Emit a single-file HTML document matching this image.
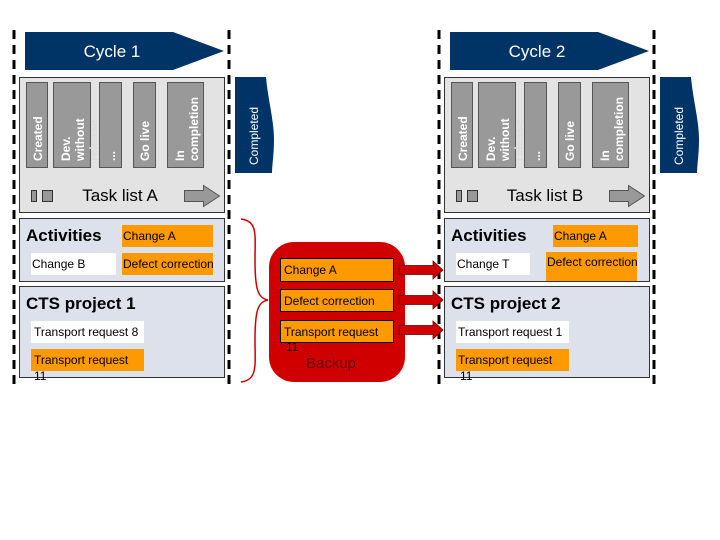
<!DOCTYPE html>
<html><head><meta charset="utf-8"><style>
body{margin:0;background:#fff}
svg{display:block}
text{font-family:"Liberation Sans",Arial,sans-serif}
</style></head><body>
<svg width="720" height="540" viewBox="0 0 720 540" xmlns="http://www.w3.org/2000/svg">
<defs>
<g id="col">
  <path d="M25 32 H173 L224 51 L173 70 H25 Z" fill="#003366"/>
  <rect x="19.5" y="77.5" width="205" height="135" fill="#e3e3e3" stroke="#333"/>
  <g fill="#999" stroke="#555">
    <rect x="26.5" y="82.5" width="21" height="85"/>
    <rect x="53.5" y="82.5" width="37" height="85"/>
    <rect x="99.5" y="82.5" width="22" height="85"/>
    <rect x="133.5" y="82.5" width="22" height="85"/>
    <rect x="167.5" y="82.5" width="36" height="85"/>
  </g>
  <g fill="#fff" font-size="12" font-weight="bold">
    <text transform="translate(42,161) rotate(-90)">Created</text>
    <text transform="translate(70,161) rotate(-90)">Dev.</text>
    <text transform="translate(84,161) rotate(-90)">without</text>
    <text transform="translate(98,161) rotate(-90)" fill="#ddd">release</text>
    <text transform="translate(115,161) rotate(-90)">...</text>
    <text transform="translate(149,161) rotate(-90)">Go live</text>
    <text transform="translate(184,161) rotate(-90)">In</text>
    <text transform="translate(198,161) rotate(-90)">completion</text>
  </g>
  <rect x="31.5" y="190.5" width="5" height="11" fill="#999" stroke="#333"/>
  <rect x="42.5" y="190.5" width="10" height="11" fill="#999" stroke="#333"/>
  <path d="M184.5 190.5 H203.5 V185.5 L219.5 196 L203.5 206.5 V201.5 H184.5 Z" fill="#999" stroke="#555"/>
  <path d="M235 77 H266 C268 100 274 120 274 140 C274 155 272 165 272 173 H235 Z" fill="#003366"/>
  <text transform="translate(258,165) rotate(-90)" fill="#fff" font-size="12">Completed</text>
  <rect x="19.5" y="218.5" width="205" height="63" fill="#dce1ec" stroke="#333"/>
  <text x="26" y="241" font-size="17" font-weight="bold">Activities</text>
  <rect x="19.5" y="286.5" width="205" height="91" fill="#dce1ec" stroke="#333"/>
  <text x="26" y="309" font-size="17" font-weight="bold">CTS project 1</text>
  <g stroke="#000" stroke-width="3" stroke-dasharray="9,6">
    <line x1="14" y1="30" x2="14" y2="384"/>
    <line x1="229" y1="30" x2="229" y2="384"/>
  </g>
</g>
</defs>
<use href="#col"/>
<use href="#col" x="425"/>
<rect x="445" y="287" width="130" height="30" fill="#dce1ec"/>
<text x="451" y="309" font-size="17" font-weight="bold">CTS project 2</text>
<g font-size="12" fill="#000">
<text x="112" y="57" font-size="17" fill="#fff" text-anchor="middle">Cycle 1</text>
<text x="537" y="57" font-size="17" fill="#fff" text-anchor="middle">Cycle 2</text>
<rect x="110" y="185" width="60" height="20" fill="#e3e3e3"/>
<text x="120" y="201" font-size="17" text-anchor="middle">Task list A</text>
<rect x="535" y="185" width="60" height="20" fill="#e3e3e3"/>
<text x="545" y="201" font-size="17" text-anchor="middle">Task list B</text>
<rect x="122" y="225" width="91" height="22" fill="#f90"/><text x="123" y="240">Change A</text>
<rect x="31" y="253" width="85" height="22" fill="#fff"/><text x="32" y="268">Change B</text>
<rect x="122" y="253" width="91" height="22" fill="#f90"/><text x="123" y="268">Defect correction</text>
<rect x="31" y="321" width="113" height="22" fill="#fff"/><text x="34" y="336">Transport request 8</text>
<rect x="31" y="349" width="113" height="22" fill="#f90"/><text x="34" y="364">Transport request</text><text x="34" y="380">11</text>
<rect x="553" y="225" width="85" height="22" fill="#f90"/><text x="554" y="240">Change A</text>
<rect x="456" y="253" width="74" height="22" fill="#fff"/><text x="457" y="268">Change T</text>
<rect x="546" y="252" width="91" height="29" fill="#f90"/><text x="547" y="266">Defect correction</text>
<rect x="456" y="321" width="113" height="22" fill="#fff"/><text x="458" y="336">Transport request 1</text>
<rect x="456" y="349" width="113" height="22" fill="#f90"/><text x="458" y="364">Transport request</text><text x="460" y="380">11</text>
</g>
<path d="M241 219 C258 221 255 235 255 260 C255 290 258 298 268 300 C258 302 255 310 255 340 C255 365 258 380 241 382" fill="none" stroke="#c00" stroke-width="1.5"/>
<rect x="269" y="242" width="136" height="140" rx="25" fill="#d00000"/>
<g font-size="12">
<rect x="280.5" y="258.5" width="113" height="23" fill="#f90" stroke="#000"/><text x="284" y="274">Change A</text>
<rect x="280.5" y="289.5" width="113" height="22" fill="#f90" stroke="#000"/><text x="284" y="305">Defect correction</text>
<rect x="280.5" y="320.5" width="113" height="22" fill="#f90" stroke="#000"/><text x="284" y="336">Transport request</text><text x="286" y="351">11</text>
<text x="331" y="368" font-size="15" fill="#600" text-anchor="middle">Backup</text>
</g>
<g fill="#d00000" stroke="#600" stroke-width="0.8">
<path d="M399 265.5 H433 V261 L443 270 L433 279 V274.5 H399 Z"/>
<path d="M399 295.5 H433 V291 L443 300 L433 309 V304.5 H399 Z"/>
<path d="M399 325.5 H433 V321 L443 330 L433 339 V334.5 H399 Z"/>
</g>
</svg>
</body></html>
